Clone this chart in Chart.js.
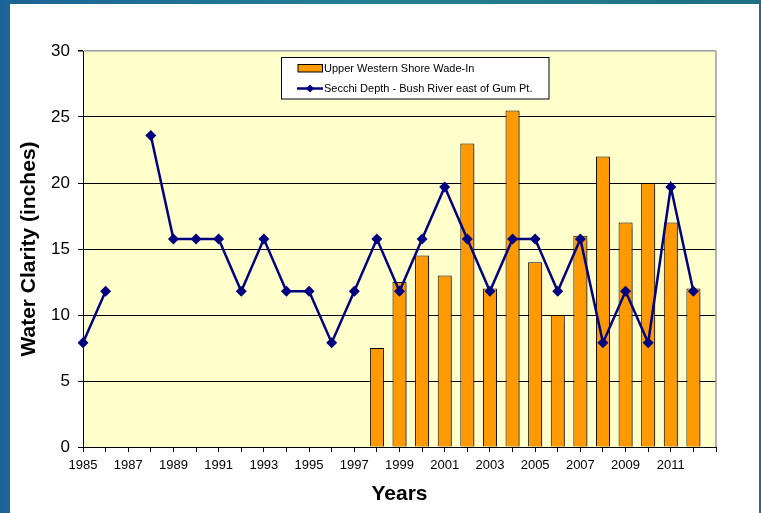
<!DOCTYPE html>
<html>
<head>
<meta charset="utf-8">
<script src="https://cdn.jsdelivr.net/npm/chart.js@4"></script>
<style>
  html, body { margin: 0; padding: 0; }
  body {
    width: 761px; height: 513px; overflow: hidden; position: relative;
    background: linear-gradient(90deg, #1b6497 0%, #257f93 50%, #1d6f86 100%);
  }
  #panel {
    position: absolute; left: 10px; top: 4px; width: 749px; height: 509px;
    background: #ffffff;
  }
  #wrap { position: absolute; left: 0; top: 0; width: 761px; height: 513px; }
  canvas { display: block; }
</style>
</head>
<body>
<div id="panel"></div>
<div id="wrap"><canvas id="clarityChart" width="761" height="513"></canvas></div>
<script>
const years = ['1985','1986','1987','1988','1989','1990','1991','1992','1993','1994',
               '1995','1996','1997','1998','1999','2000','2001','2002','2003','2004',
               '2005','2006','2007','2008','2009','2010','2011','2012','2013'];
const shownYears = ['1985','1987','1989','1991','1993','1995','1997','1999','2001',
                    '2003','2005','2007','2009','2011'];

// Upper Western Shore Wade-In (bars)
const wadeIn = [null,null,null,null,null,null,null,null,null,null,
                null,null,null,7.5,12.5,14.5,13,23,12,25.5,
                14,10,16,22,17,20,17,12,null];

// Secchi Depth - Bush River east of Gum Pt. (line)
const secchi = [7.9,11.8,null,23.6,15.75,15.75,15.75,11.8,15.75,11.8,
                11.8,7.9,11.8,15.75,11.8,15.75,19.7,15.75,11.8,15.75,
                15.75,11.8,15.75,7.9,11.8,7.9,19.7,11.8,null];

const seriesNames = ['Upper Western Shore Wade-In', 'Secchi Depth - Bush River east of Gum Pt.'];

const FONT = 'Arial, "Liberation Sans", sans-serif';

const plotBg = {
    id: 'plotBg',
    beforeDraw(chart){
        const {ctx, chartArea: a} = chart;
        ctx.save();
        ctx.fillStyle = '#FFFFCC';
        ctx.fillRect(a.left, a.top, a.right - a.left, a.bottom - a.top);
        ctx.restore();
    },
    beforeDatasetsDraw(chart){
        const {ctx, chartArea: a} = chart;
        ctx.save();
        ctx.strokeStyle = '#9a9a9a';
        ctx.lineWidth = 1.5;
        ctx.beginPath();
        ctx.moveTo(a.right, a.top);
        ctx.lineTo(a.right, a.bottom);
        ctx.stroke();
        ctx.restore();
    },
    beforeDatasetDraw(chart, args){
        if (args.meta.type === 'bar') {
            const ctx = chart.ctx;
            ctx.save();
            ctx.shadowColor = 'rgba(0,0,0,0.35)';
            ctx.shadowOffsetX = 2;
            ctx.shadowOffsetY = 2;
            ctx.shadowBlur = 1;
        }
    },
    afterDatasetDraw(chart, args){
        if (args.meta.type === 'bar') chart.ctx.restore();
    }
};

const boxLegend = {
    id: 'boxLegend',
    afterDraw(chart){
        const ctx = chart.ctx;
        ctx.save();
        ctx.fillStyle = '#ffffff';
        ctx.fillRect(281.5, 57.5, 267.5, 41.5);
        ctx.strokeStyle = '#000';
        ctx.lineWidth = 1;
        ctx.strokeRect(281.5, 57.5, 267.5, 41.5);

        ctx.fillStyle = '#FF9900';
        ctx.fillRect(298, 64.5, 24.5, 7.5);
        ctx.strokeRect(298, 64.5, 24.5, 7.5);

        ctx.strokeStyle = '#000080';
        ctx.lineWidth = 2.5;
        ctx.beginPath();
        ctx.moveTo(297, 88.5);
        ctx.lineTo(323, 88.5);
        ctx.stroke();
        ctx.fillStyle = '#000080';
        ctx.beginPath();
        ctx.moveTo(310, 84.5);
        ctx.lineTo(314, 88.5);
        ctx.lineTo(310, 92.5);
        ctx.lineTo(306, 88.5);
        ctx.closePath();
        ctx.fill();

        ctx.fillStyle = '#000';
        ctx.font = '11px ' + FONT;
        ctx.textBaseline = 'middle';
        ctx.fillText(seriesNames[0], 324, 68.5);
        ctx.fillText(seriesNames[1], 324, 89);
        ctx.restore();
    }
};

const clarityChart = new Chart(document.getElementById('clarityChart'), {
    type: 'bar',
    data: {
        labels: years,
        datasets: [{
            type: 'line',
            label: seriesNames[1],
            data: secchi,
            order: 0,
            borderColor: '#000080',
            backgroundColor: '#000080',
            borderWidth: 2.5,
            pointStyle: 'rectRot',
            pointRadius: 5.5,
            pointBorderWidth: 0,
            spanGaps: false,
            tension: 0
        }, {
            type: 'bar',
            label: seriesNames[0],
            data: wadeIn,
            order: 1,
            backgroundColor: '#FF9900',
            borderColor: '#000000',
            borderWidth: 1,
            barPercentage: 0.62,
            categoryPercentage: 1
        }]
    },
    options: {
        responsive: false,
        animation: false,
        devicePixelRatio: 1,
        layout: { padding: { left: 10, right: 45, top: 51, bottom: 0 } },
        plugins: {
            legend: { display: false },
            tooltip: { enabled: false }
        },
        scales: {
            x: {
                offset: false,
                grid: { offset: false, drawOnChartArea: false, drawTicks: true, tickLength: 5, color: '#000' },
                border: { display: true, color: '#000', width: 1 },
                ticks: {
                    autoSkip: false,
                    maxRotation: 0,
                    padding: 6,
                    color: '#000',
                    font: { family: FONT, size: 13 },
                    callback(value){
                        const y = this.getLabelForValue(value);
                        return shownYears.includes(y) ? y : '';
                    }
                },
                title: {
                    display: true,
                    text: 'Years',
                    color: '#000',
                    font: { family: FONT, size: 21, weight: 'bold' },
                    padding: { top: 6, bottom: 6 }
                },
                afterFit(scale){ scale.height = 66; }
            },
            y: {
                min: 0,
                max: 30,
                ticks: {
                    stepSize: 5,
                    padding: 8,
                    color: '#000',
                    font: { family: FONT, size: 17 }
                },
                grid: {
                    color: ctx => ctx.tick && ctx.tick.value === 30 ? '#9a9a9a' : '#000',
                    lineWidth: ctx => ctx.tick && ctx.tick.value === 30 ? 1.5 : 1,
                    tickColor: '#000',
                    tickLength: 5
                },
                border: { display: true, color: '#000', width: 1 },
                title: {
                    display: true,
                    text: 'Water Clarity (inches)',
                    color: '#000',
                    font: { family: FONT, size: 21, weight: 'bold' },
                    padding: { top: 7, bottom: 0 }
                },
                afterFit(scale){ scale.width = 73; }
            }
        }
    },
    plugins: [plotBg, boxLegend]
});
</script>
</body>
</html>
